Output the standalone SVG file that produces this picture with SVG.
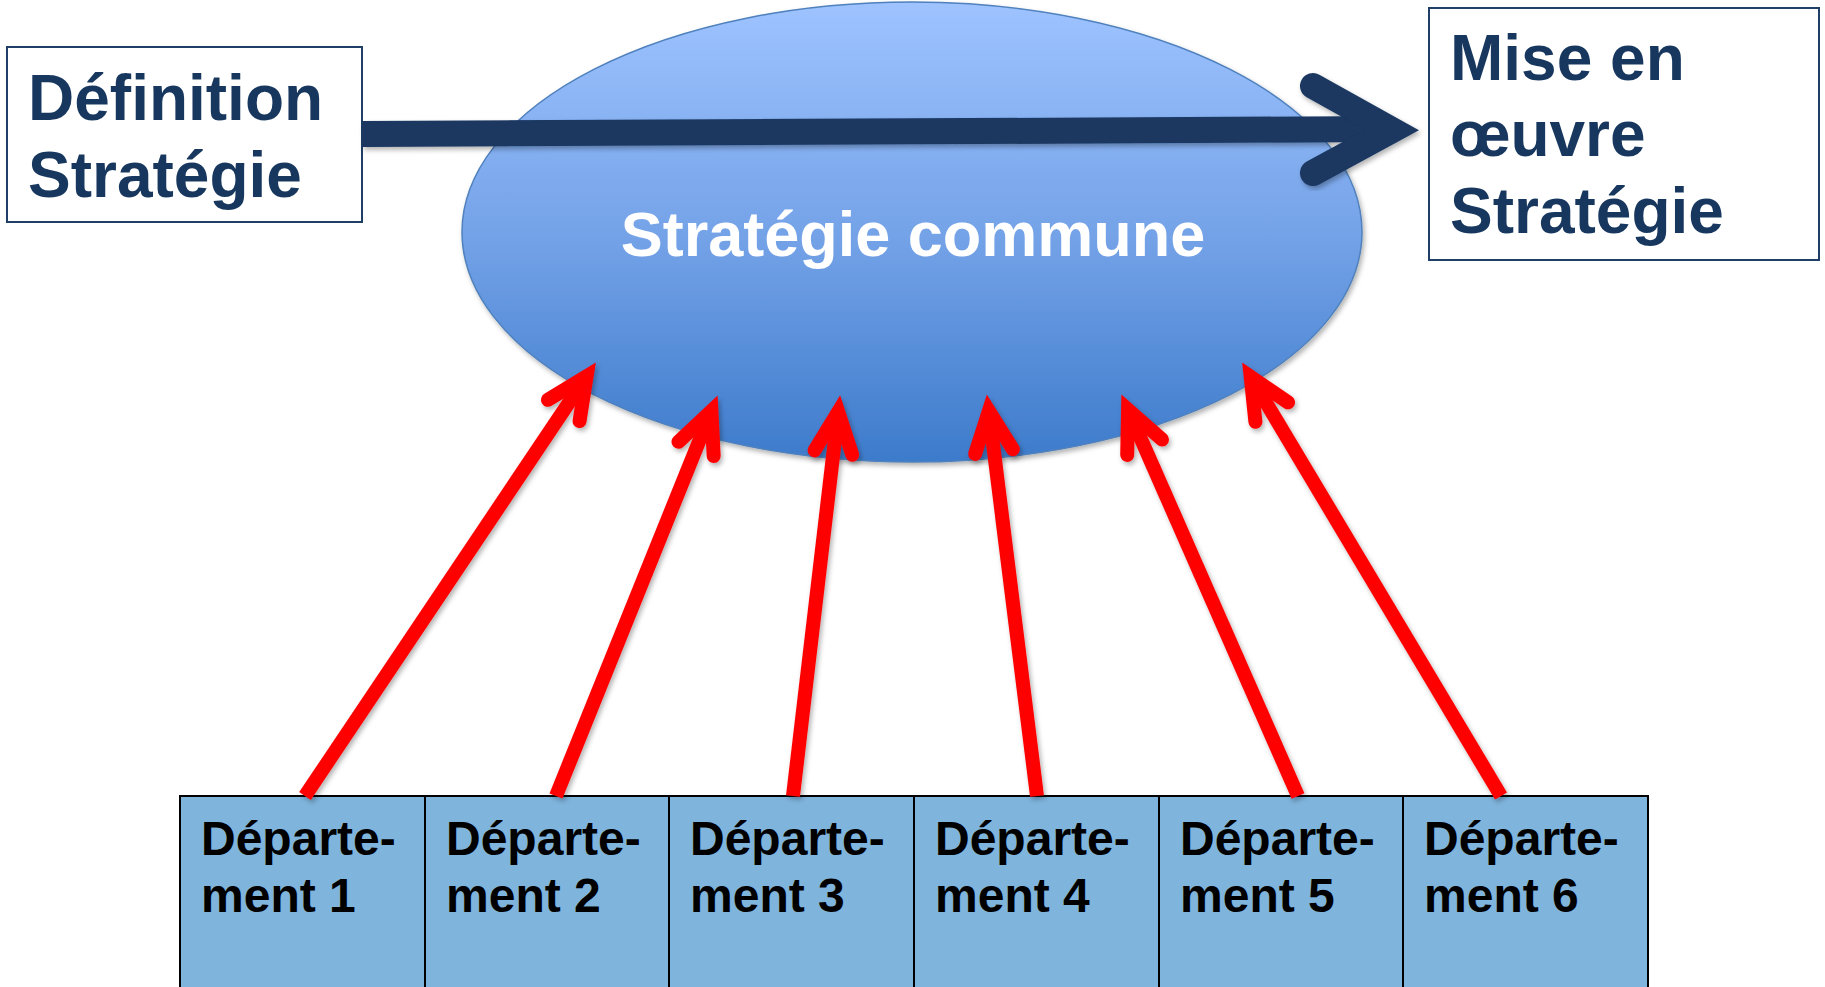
<svg xmlns="http://www.w3.org/2000/svg" width="1825" height="987" viewBox="0 0 1825 987">
<style>
.box{fill:#ffffff;stroke:#1F3F66;stroke-width:2}
.ttl{font-family:"Liberation Sans",Arial,sans-serif;font-weight:bold;font-size:64px;fill:#17375E}
.dep{fill:#7FB4DC;stroke:#000000;stroke-width:2}
.dt{font-family:"Liberation Sans",Arial,sans-serif;font-weight:bold;font-size:48px;fill:#000000}
.red{stroke:#FF0000;stroke-width:14;fill:none;stroke-linecap:butt}
.navy{stroke:#1A3760;stroke-width:26;fill:none}
</style>
<defs>
<linearGradient id="eg" x1="0" y1="0" x2="0" y2="1">
<stop offset="0" stop-color="#9EC3FF"/>
<stop offset="0.5" stop-color="#75A3E8"/>
<stop offset="1" stop-color="#3D7BCB"/>
</linearGradient>
<filter id="sh" x="-20%" y="-20%" width="140%" height="140%">
<feDropShadow dx="2" dy="3" stdDeviation="2.5" flood-color="#000000" flood-opacity="0.3"/>
</filter>
<marker id="rh" markerUnits="userSpaceOnUse" orient="auto" refX="0" refY="0" markerWidth="120" markerHeight="120" viewBox="-60 -60 120 120" overflow="visible">
<path d="M -41 -19 L 0 0 L -41 19" fill="none" stroke="#FF0000" stroke-width="14" stroke-linecap="round" stroke-linejoin="miter"/>
</marker>
</defs>

<g id="ellipse-strategie-commune">
<ellipse cx="912" cy="232" rx="450" ry="230" fill="url(#eg)" stroke="#4F81BD" stroke-width="1.5" filter="url(#sh)"/>
<text x="913" y="256" text-anchor="middle" font-family="Liberation Sans, Arial, sans-serif" font-weight="bold" font-size="63" fill="#ffffff">Stratégie commune</text>
</g>

<g id="box-definition">
<rect class="box" x="7" y="47" width="355" height="175"/>
<text class="ttl" x="28" y="120">Définition</text>
<text class="ttl" x="28" y="197">Stratégie</text>
</g>

<g id="box-mise-en-oeuvre">
<rect class="box" x="1429" y="8" width="390" height="252"/>
<text class="ttl" x="1450" y="80">Mise en</text>
<text class="ttl" x="1450" y="156">œuvre</text>
<text class="ttl" x="1450" y="233">Stratégie</text>
</g>

<g id="departements">
<g id="dep1"><rect class="dep" x="180" y="796" width="245" height="200"/><text class="dt" x="201" y="855">Départe-</text><text class="dt" x="201" y="912">ment 1</text></g>
<g id="dep2"><rect class="dep" x="425" y="796" width="244" height="200"/><text class="dt" x="446" y="855">Départe-</text><text class="dt" x="446" y="912">ment 2</text></g>
<g id="dep3"><rect class="dep" x="669" y="796" width="245" height="200"/><text class="dt" x="690" y="855">Départe-</text><text class="dt" x="690" y="912">ment 3</text></g>
<g id="dep4"><rect class="dep" x="914" y="796" width="245" height="200"/><text class="dt" x="935" y="855">Départe-</text><text class="dt" x="935" y="912">ment 4</text></g>
<g id="dep5"><rect class="dep" x="1159" y="796" width="244" height="200"/><text class="dt" x="1180" y="855">Départe-</text><text class="dt" x="1180" y="912">ment 5</text></g>
<g id="dep6"><rect class="dep" x="1403" y="796" width="245" height="200"/><text class="dt" x="1424" y="855">Départe-</text><text class="dt" x="1424" y="912">ment 6</text></g>
</g>

<g id="connectors">
<g filter="url(#sh)">
<path class="navy" d="M 362 134 L 1392 129"/>
<path class="navy" d="M 1313 86 L 1392 130 L 1313 173" stroke-linecap="round" stroke-linejoin="miter"/>
</g>
<g filter="url(#sh)">
<line class="red" x1="305" y1="796" x2="586.6" y2="376.4" marker-end="url(#rh)"/>
<line class="red" x1="556" y1="796" x2="711.4" y2="410.9" marker-end="url(#rh)"/>
<line class="red" x1="793" y1="796" x2="838.2" y2="411.9" marker-end="url(#rh)"/>
<line class="red" x1="1037" y1="796" x2="988.9" y2="410.9" marker-end="url(#rh)"/>
<line class="red" x1="1298" y1="796" x2="1128.1" y2="409.7" marker-end="url(#rh)"/>
<line class="red" x1="1501" y1="796" x2="1250.7" y2="376.9" marker-end="url(#rh)"/>
</g>
</g>
</svg>
